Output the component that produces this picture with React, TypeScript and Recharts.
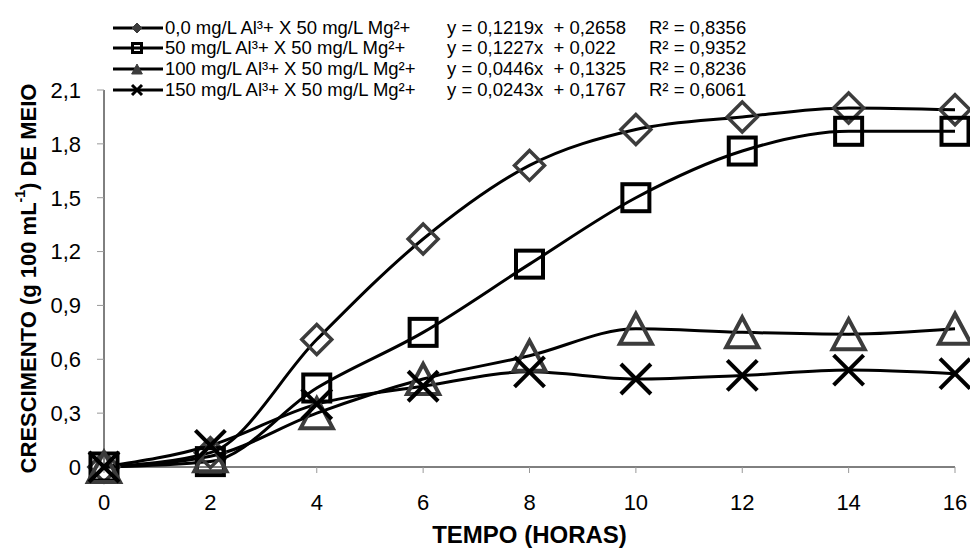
import React from 'react';
import { LineChart, Line, XAxis, YAxis, Legend, Label } from 'recharts';

const hours = [0, 2, 4, 6, 8, 10, 12, 14, 16];
const al0 = [0, 0.08, 0.71, 1.27, 1.68, 1.88, 1.95, 2.0, 1.99];
const al50 = [0, 0.03, 0.44, 0.75, 1.13, 1.5, 1.76, 1.87, 1.87];
const al100 = [0, 0.06, 0.3, 0.49, 0.62, 0.77, 0.75, 0.74, 0.77];
const al150 = [0, 0.12, 0.35, 0.45, 0.53, 0.49, 0.51, 0.54, 0.52];

const seriesNames = [
  '0,0 mg/L Al³+ X 50 mg/L Mg²+',
  '50 mg/L Al³+ X 50 mg/L Mg²+',
  '100 mg/L Al³+ X 50 mg/L Mg²+',
  '150 mg/L Al³+ X 50 mg/L Mg²+',
];
const equations = [
  'y = 0,1219x  + 0,2658',
  'y = 0,1227x  + 0,022',
  'y = 0,0446x  + 0,1325',
  'y = 0,0243x  + 0,1767',
];
const r2Values = ['R² = 0,8356', 'R² = 0,9352', 'R² = 0,8236', 'R² = 0,6061'];
const yTicks = [0, 0.3, 0.6, 0.9, 1.2, 1.5, 1.8, 2.1];

const keys = ['al0', 'al50', 'al100', 'al150'];
const data = hours.map((h, i) => ({
  h,
  al0: al0[i],
  al50: al50[i],
  al100: al100[i],
  al150: al150[i],
}));

const FONT = '"Liberation Sans", Arial, sans-serif';
const GRAY = '#3c3c3c';

type Kind = 'diamond' | 'square' | 'triangle' | 'cross';
const kinds: Kind[] = ['diamond', 'square', 'triangle', 'cross'];

function marker(kind: Kind, cx: number, cy: number, r: number, small = false) {
  if (kind === 'diamond') {
    return (
      <polygon
        points={`${cx},${cy - r} ${cx + r},${cy} ${cx},${cy + r} ${cx - r},${cy}`}
        fill={small ? GRAY : 'none'}
        stroke={GRAY}
        strokeWidth={small ? 1 : 3.5}
      />
    );
  }
  if (kind === 'square') {
    return (
      <rect
        x={cx - r}
        y={cy - r}
        width={r * 2}
        height={r * 2}
        fill="none"
        stroke="#000"
        strokeWidth={small ? 3 : 4}
      />
    );
  }
  if (kind === 'triangle') {
    return (
      <polygon
        points={`${cx},${cy - r} ${cx + r * 1.07},${cy + r} ${cx - r * 1.07},${cy + r}`}
        fill={small ? GRAY : 'none'}
        stroke={GRAY}
        strokeWidth={small ? 1 : 4}
      />
    );
  }
  return (
    <g stroke="#000" strokeWidth={small ? 3 : 4}>
      <line x1={cx - r} y1={cy - r} x2={cx + r} y2={cy + r} />
      <line x1={cx - r} y1={cy + r} x2={cx + r} y2={cy - r} />
    </g>
  );
}

const dotFor = (kind: Kind) => (props: any) => {
  const { cx, cy, index } = props;
  if (cx == null || cy == null) return <g key={index} />;
  return <g key={`${kind}-${index}`}>{marker(kind, cx, cy, kind === 'square' ? 13.5 : 15)}</g>;
};

const rowCenters = [28, 48, 69, 90];

function LegendBox() {
  return (
    <div style={{ position: 'relative', width: 970, height: 100, fontFamily: FONT, fontSize: 18.5, color: '#000' }}>
      {seriesNames.map((name, i) => (
        <div key={name} style={{ position: 'absolute', top: rowCenters[i] - 10, left: 0, height: 20, lineHeight: '20px', whiteSpace: 'pre' }}>
          <svg width={52} height={20} style={{ position: 'absolute', left: 112, top: 0 }}>
            <line x1={1} y1={10} x2={51} y2={10} stroke="#000" strokeWidth={3} />
            {marker(kinds[i], 25, 10, kinds[i] === 'square' ? 4.5 : 5, true)}
          </svg>
          <span style={{ position: 'absolute', left: 165 }}>{name}</span>
          <span style={{ position: 'absolute', left: 447 }}>{equations[i]}</span>
          <span style={{ position: 'absolute', left: 649 }}>{r2Values[i]}</span>
        </div>
      ))}
    </div>
  );
}

const fmt = (v: number) => (v === 0 ? '0' : v.toFixed(1).replace('.', ','));

export default function App() {
  return (
    <div style={{ position: 'absolute', left: 0, top: 0, width: 970, height: 551, background: '#fff' }}>
      <LineChart width={970} height={551} data={data} margin={{ top: 90, right: 15, bottom: 0, left: 0 }}>
        <XAxis
          dataKey="h"
          type="number"
          domain={[0, 16]}
          ticks={hours}
          height={84}
          axisLine={{ stroke: '#000', strokeWidth: 1 }}
          tickLine={{ stroke: '#999' }}
          tickSize={6}
          tickMargin={21}
          tick={{ fill: '#000', fontSize: 22, fontFamily: FONT }}
        >
          <Label
            content={({ viewBox }: any) => (
              <text
                x={viewBox.x + viewBox.width / 2}
                y={543}
                textAnchor="middle"
                fontFamily={FONT}
                fontWeight="bold"
                fontSize={24}
                fill="#000"
              >
                TEMPO (HORAS)
              </text>
            )}
          />
        </XAxis>
        <YAxis
          type="number"
          domain={[0, 2.1]}
          ticks={yTicks}
          width={104}
          tickFormatter={fmt}
          axisLine={{ stroke: '#000', strokeWidth: 1 }}
          tickLine={{ stroke: '#999' }}
          tickSize={7}
          tickMargin={16}
          tick={{ fill: '#000', fontSize: 22, fontFamily: FONT }}
        >
          <Label
            content={({ viewBox }: any) => {
              const cx = 28;
              const cy = viewBox.y + viewBox.height / 2;
              return (
                <text
                  x={cx}
                  y={cy}
                  transform={`rotate(-90 ${cx} ${cy})`}
                  textAnchor="middle"
                  dominantBaseline="central"
                  fontFamily={FONT}
                  fontWeight="bold"
                  fontSize={22}
                  fill="#000"
                >
                  CRESCIMENTO (g 100 mL
                  <tspan dy={-8} fontSize={14}>-1</tspan>
                  <tspan dy={8}>)  DE MEIO</tspan>
                </text>
              );
            }}
          />
        </YAxis>
        <Legend
          layout="horizontal"
          verticalAlign="middle"
          align="center"
          wrapperStyle={{ top: 0, left: 0, width: 970, height: 100 }}
          content={() => <LegendBox />}
        />
        {keys.map((k, i) => (
          <Line
            key={k}
            dataKey={k}
            type="monotone"
            stroke="#000"
            strokeWidth={3}
            dot={dotFor(kinds[i])}
            activeDot={false}
            isAnimationActive={false}
          />
        ))}
      </LineChart>
    </div>
  );
}
